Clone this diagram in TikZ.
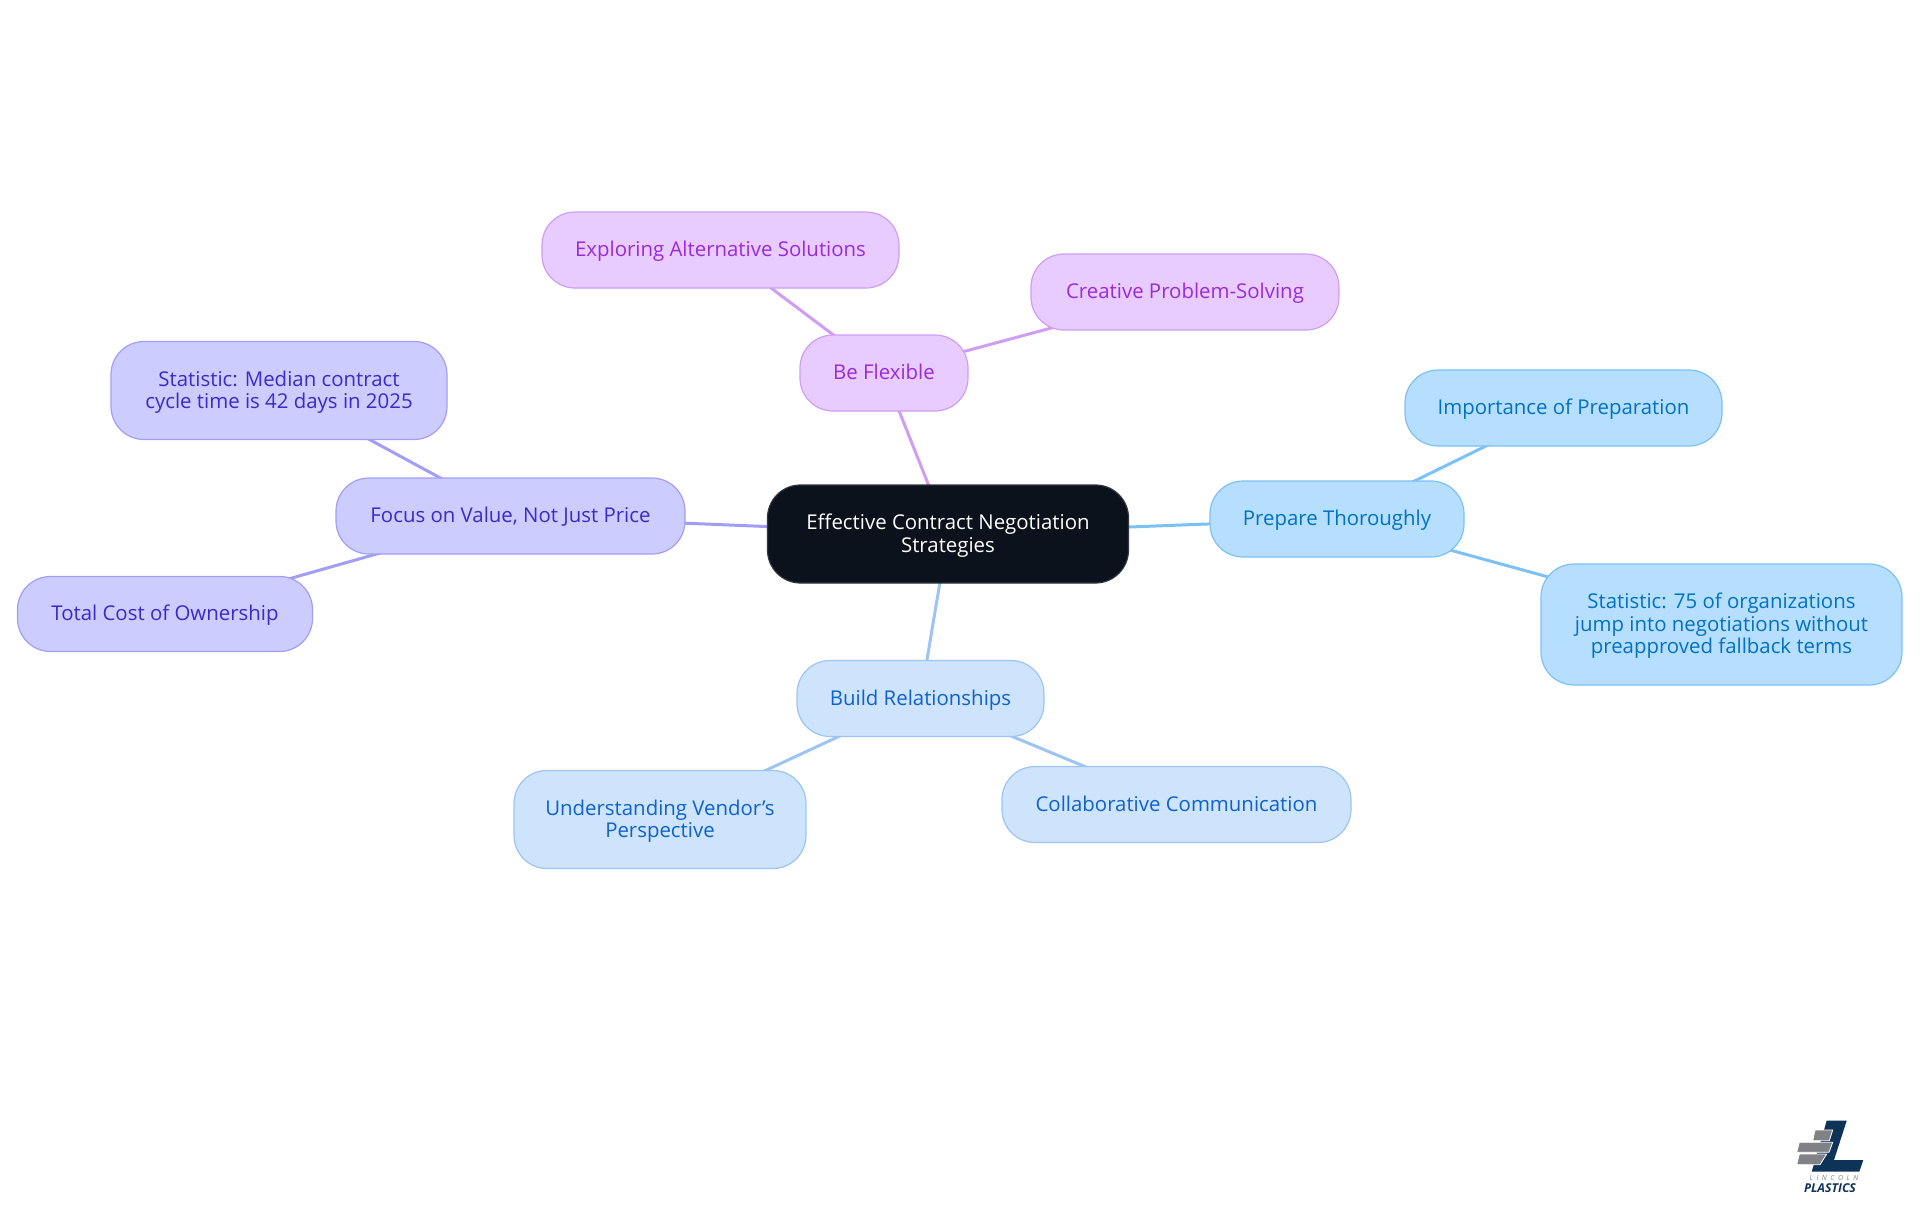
\documentclass[tikz,border=0pt]{standalone}
\usepackage{fontspec}
\setmainfont{Open Sans}
\usetikzlibrary{backgrounds}
\definecolor{inkroot}{HTML}{0C121C}
\definecolor{fillsky}{HTML}{B6DFFF}
\definecolor{linesky}{HTML}{7CC1F5}
\definecolor{textsky}{HTML}{0271C2}
\definecolor{fillblue}{HTML}{CEE3FC}
\definecolor{lineblue}{HTML}{9CC5F5}
\definecolor{textblue}{HTML}{0F62CC}
\definecolor{fillindigo}{HTML}{CCCCFF}
\definecolor{lineindigo}{HTML}{A29EF5}
\definecolor{textindigo}{HTML}{3A2AC8}
\definecolor{fillpurple}{HTML}{E8CBFF}
\definecolor{linepurple}{HTML}{CF9DF5}
\definecolor{textpurple}{HTML}{9A2BD8}
\definecolor{logonavy}{HTML}{0E3358}
\definecolor{logogray}{HTML}{808285}
\tikzset{
  mapnode/.style={rounded corners=33pt, line width=1.2pt, align=center, inner sep=0pt,
    font=\fontsize{20.4}{22.5}\selectfont,
    execute at begin node={\rule{0pt}{20pt}}, execute at end node={\rule[-6.7pt]{0pt}{6.7pt}}},
  manylines/.style={execute at begin node={\rule{0pt}{#1}}},
  rootnode/.style={mapnode, fill=inkroot, draw=inkroot!85!white, text=white},
  skynode/.style={mapnode, fill=fillsky, draw=linesky, text=textsky},
  bluenode/.style={mapnode, fill=fillblue, draw=lineblue, text=textblue},
  indigonode/.style={mapnode, fill=fillindigo, draw=lineindigo, text=textindigo},
  purplenode/.style={mapnode, fill=fillpurple, draw=linepurple, text=textpurple},
  maplink/.style={line width=3pt},
  brick/.style={fill=logogray, draw=white, line width=0.8pt}
}
\begin{document}
\begin{tikzpicture}[x=1pt, y=-1pt]
\useasboundingbox (0,0) rectangle (1920,1215);

\node[rootnode, manylines=42.8pt, minimum width=361pt, minimum height=98pt] (root) at (948,534) {Effective Contract Negotiation\\Strategies};

\node[skynode, minimum width=254pt, minimum height=76pt] (prepare) at (1337,519) {Prepare Thoroughly};
\node[skynode, minimum width=317pt, minimum height=76pt] (importance) at (1563.5,408) {Importance of Preparation};
\node[skynode, manylines=65pt, minimum width=361pt, minimum height=121pt] (fallback) at (1721.5,624.5) {Statistic: 75 of organizations\\jump into negotiations without\\preapproved fallback terms};

\node[bluenode, minimum width=247pt, minimum height=76pt] (build) at (920.5,698.5) {Build Relationships};
\node[bluenode, manylines=42.8pt, minimum width=292pt, minimum height=98pt] (vendor) at (660,819.5) {Understanding Vendor's\\Perspective};
\node[bluenode, minimum width=349pt, minimum height=76pt] (collab) at (1176.5,804.5) {Collaborative Communication};

\node[indigonode, minimum width=349pt, minimum height=76pt] (value) at (510.5,516) {Focus on Value, Not Just Price};
\node[indigonode, manylines=42.8pt, minimum width=336pt, minimum height=98pt] (median) at (279,390.5) {Statistic: Median contract\\cycle time is 42 days in 2025};
\node[indigonode, minimum width=295pt, minimum height=75pt] (cost) at (165,614) {Total Cost of Ownership};

\node[purplenode, minimum width=168pt, minimum height=76pt] (flexible) at (884,373) {Be Flexible};
\node[purplenode, minimum width=357pt, minimum height=76pt] (exploring) at (720.5,250) {Exploring Alternative Solutions};
\node[purplenode, minimum width=308pt, minimum height=76pt] (creative) at (1185,292) {Creative Problem-Solving};

\begin{scope}[on background layer]
\draw[maplink, linesky] (root.center) -- (prepare.center);
\draw[maplink, linesky] (prepare.center) -- (importance.center);
\draw[maplink, linesky] (prepare.center) -- (fallback.center);
\draw[maplink, lineblue] (root.center) -- (build.center);
\draw[maplink, lineblue] (build.center) -- (vendor.center);
\draw[maplink, lineblue] (build.center) -- (collab.center);
\draw[maplink, lineindigo] (root.center) -- (value.center);
\draw[maplink, lineindigo] (value.center) -- (median.center);
\draw[maplink, lineindigo] (value.center) -- (cost.center);
\draw[maplink, linepurple] (root.center) -- (flexible.center);
\draw[maplink, linepurple] (flexible.center) -- (exploring.center);
\draw[maplink, linepurple] (flexible.center) -- (creative.center);
\end{scope}

% logo
\fill[logonavy] (1826.7,1120.7) -- (1846.7,1120.7) -- (1834,1160) -- (1863.3,1160) -- (1859.3,1171.7) -- (1811.7,1171.7) -- cycle;
\draw[brick] (1815,1130) -- (1832.7,1130) -- (1829.3,1140.7) -- (1812.7,1140.7) -- cycle;
\draw[brick] (1799.3,1142.3) -- (1832.7,1142.3) -- (1829,1152.3) -- (1796.7,1152.3) -- cycle;
\draw[brick] (1799.3,1154) -- (1826.7,1154) -- (1820,1164.7) -- (1796.7,1164.7) -- cycle;
\node[inner sep=0pt, text=logogray, font=\fontsize{7}{7}\selectfont\itshape] (logotop) at (1834,1178) {L\hspace{3.5pt}I\hspace{3.5pt}N\hspace{3.5pt}C\hspace{3.5pt}O\hspace{3.5pt}L\hspace{3.5pt}N};
\node[inner sep=0pt, text=logonavy, font=\fontsize{12.2}{13}\selectfont\bfseries\itshape] (logoname) at (1830,1188.5) {PLASTICS};
\end{tikzpicture}
\end{document}
